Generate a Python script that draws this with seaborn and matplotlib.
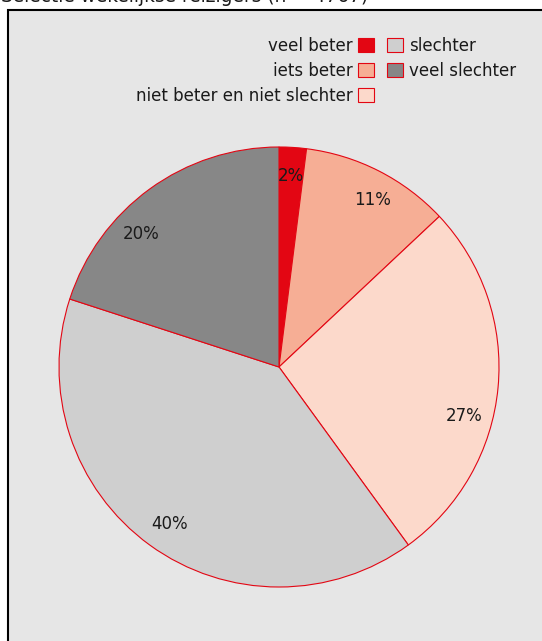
import matplotlib
matplotlib.use("Agg")
import matplotlib.pyplot as plt
from matplotlib.patches import Patch, Rectangle
import numpy as np
import seaborn as sns

# Data
categories = ["veel beter", "iets beter", "niet beter en niet slechter", "slechter", "veel slechter"]
values = [2, 11, 27, 40, 20]
colors = ["#e30613", "#f6ae95", "#fcd9cb", "#cfcfcf", "#878787"]
title = "Selectie wekelijkse reizigers (n = 4767)"

# label placement tweaks (degrees, relative to wedge middle)
label_shift = [0, -2.4, -9.4, 1, 10]

sns.set_theme(style="white")
plt.rcParams["font.family"] = ["DejaVu Sans"]

W, H = 542, 641
FS = 12
fig = plt.figure(figsize=(W / 100, H / 100), dpi=100)
fig.patch.set_facecolor("white")

# frame
fig.patches.append(Rectangle((8 / W, -0.05), 1.2, 1 - 10 / H + 0.05,
                             transform=fig.transFigure, facecolor="#e6e6e6",
                             edgecolor="black", linewidth=1.5, zorder=-5))

fig.text(1 / W, 1 - 2 / H, title, ha="left", va="baseline", fontsize=13.4, color="#1a1a1a")

ax = fig.add_axes([59 / W, 1 - 587 / H, 440 / W, 440 / H])
ax.set_zorder(5)
ax.set_facecolor("none")
wedges, texts, autotexts = ax.pie(
    values, colors=colors, startangle=90, counterclock=False,
    wedgeprops=dict(edgecolor="#e30613", linewidth=0.8),
    autopct=lambda p: f"{p:.0f}%", pctdistance=0.87,
    textprops=dict(fontsize=FS, color="#1a1a1a"))
for w, t, s in zip(wedges, autotexts, label_shift):
    ang = np.deg2rad((w.theta1 + w.theta2) / 2 + s)
    t.set_position((0.87 * np.cos(ang), 0.87 * np.sin(ang)))
ax.set_xlim(-1, 1)
ax.set_ylim(-1, 1)
ax.set_aspect("equal")
ax.axis("off")

handles = [Patch(facecolor=c, edgecolor="#e30613", linewidth=0.8) for c in colors]
common = dict(frameon=False, fontsize=FS, handlelength=0.95, handleheight=0.95,
              labelspacing=0.42, borderpad=0, borderaxespad=0, handletextpad=0.35,
              labelcolor="#1a1a1a")
leg1 = fig.legend(handles[:3], categories[:3], loc="upper right",
                  bbox_to_anchor=(374 / W, 1 - 37 / H), markerfirst=False, **common)
leg2 = fig.legend(handles[3:], categories[3:], loc="upper left",
                  bbox_to_anchor=(387 / W, 1 - 37 / H), markerfirst=True, **common)
leg1.set_zorder(6)
leg2.set_zorder(6)

fig.savefig("out.png", dpi=100)
